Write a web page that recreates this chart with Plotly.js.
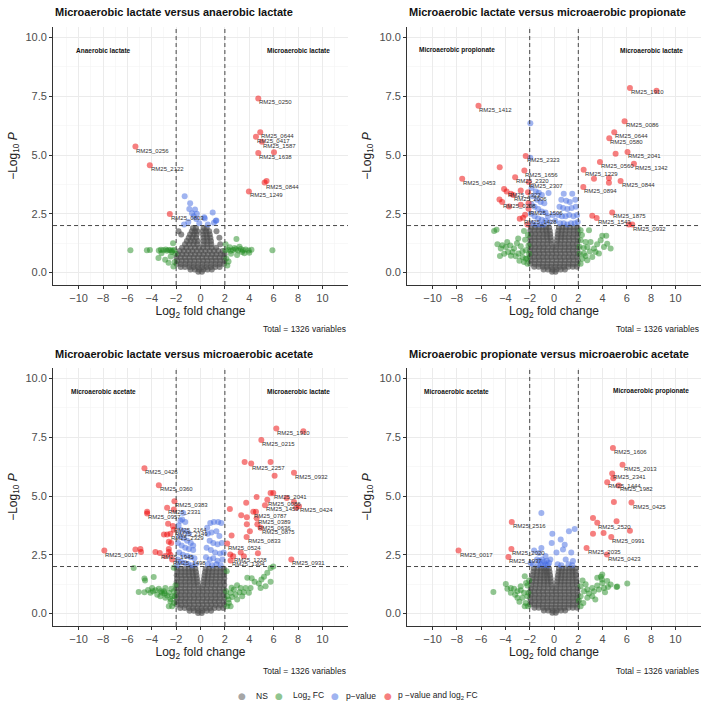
<!DOCTYPE html>
<html>
<head>
<meta charset="utf-8">
<script src="https://cdn.plot.ly/plotly-3.0.1.min.js"></script>
<style>
  html, body { margin: 0; padding: 0; background: #fff; }
  #chart { width: 709px; height: 709px; }
</style>
</head>
<body>
<div id="chart"></div>
<script>
// cut-offs used by the volcano plots
const FC_CUTOFF = 2;
const P_CUTOFF = 2; // -log10(0.01)

const xTickVals = [-10, -8, -6, -4, -2, 0, 2, 4, 6, 8, 10];
const xMinorVals = [-11, -9, -7, -5, -3, -1, 1, 3, 5, 7, 9, 11];
const yTickVals = [0, 2.5, 5, 7.5, 10];
const yTickText = ["0.0", "2.5", "5.0", "7.5", "10.0"];
const yMinorVals = [1.25, 3.75, 6.25, 8.75];

const panelTitles = [
  "Microaerobic lactate versus anaerobic lactate",
  "Microaerobic lactate versus microaerobic propionate",
  "Microaerobic lactate versus microaerobic acetate",
  "Microaerobic propionate versus microaerobic acetate",
];
const leftLabels = ["Anaerobic lactate", "Microaerobic propionate", "Microaerobic acetate", "Microaerobic acetate"];
const rightLabels = ["Microaerobic lactate", "Microaerobic lactate", "Microaerobic lactate", "Microaerobic propionate"];
const totalText = "Total = 1326 variables";
const legendNames = ["NS", "Log<sub>2</sub> FC", "p\u2212value", "p \u2212value and log<sub>2</sub> FC"];

// NS points, rows of [-log10 P, [log2 FC ...]]
const ns1 = [
  [0.03, [-0.18, 0.12]],
  [0.13, [-0.82, -0.47, -0.12, 0.24, 0.58, 0.93]],
  [0.24, [-1.62, -1.27, -0.91, -0.56, -0.21, 0.14, 0.49, 0.86, 1.21, 1.57]],
  [0.36, [-1.96, -1.61, -1.24, -0.89, -0.54, -0.19, 0.17, 0.52, 0.88, 1.23, 1.58, 1.93]],
  [0.5, [-1.92, -1.55, -1.2, -0.86, -0.51, -0.14, 0.21, 0.56, 0.91, 1.26, 1.61, 1.96]],
  [0.64, [-1.97, -1.62, -1.27, -0.9, -0.55, -0.2, 0.15, 0.5, 0.86, 1.21, 1.57, 1.92]],
  [0.78, [-1.86, -1.5, -1.15, -0.8, -0.45, -0.1, 0.25, 0.6, 0.95, 1.3, 1.66, 1.97]],
  [0.92, [-1.72, -1.36, -1.01, -0.66, -0.31, 0.05, 0.4, 0.76, 1.11, 1.46, 1.82]],
  [1.06, [-1.51, -1.16, -0.81, -0.46, -0.12, 0.21, 0.56, 0.91, 1.28]],
  [1.2, [-1.27, -0.92, -0.57, -0.26, 0.24, 0.55, 0.88, 1.62]],
  [1.34, [-1.12, -0.81, -0.51, -0.22, 0.26, 0.56, 0.86]],
  [1.48, [-0.97, -0.66, -0.36, 0.24, 0.54, 0.81, 1.55]],
  [1.62, [-1.58, -0.86, -0.56, -0.31, 0.21, 0.49, 0.76]],
  [1.76, [-1.8, -0.71, -0.46, -0.26, 0.19, 0.46, 0.71, 1.31]],
  [1.9, [-0.62, -0.37, 0.26, 0.51]],
];
const ns2 = [
  [0.03, [-0.16, 0.13]],
  [0.13, [-0.86, -0.5, -0.15, 0.2, 0.55, 0.9]],
  [0.25, [-1.63, -1.27, -0.92, -0.57, -0.22, 0.13, 0.48, 0.84, 1.19, 1.55, 1.88]],
  [0.38, [-1.95, -1.6, -1.25, -0.9, -0.55, -0.2, 0.16, 0.51, 0.86, 1.21, 1.56, 1.93]],
  [0.52, [-1.93, -1.57, -1.22, -0.87, -0.52, -0.17, 0.19, 0.54, 0.89, 1.24, 1.59, 1.95]],
  [0.66, [-1.96, -1.61, -1.26, -0.91, -0.56, -0.21, 0.14, 0.49, 0.84, 1.2, 1.55, 1.91]],
  [0.8, [-1.92, -1.56, -1.21, -0.86, -0.51, -0.16, 0.19, 0.54, 0.9, 1.25, 1.6, 1.95]],
  [0.94, [-1.95, -1.6, -1.25, -0.9, -0.55, -0.2, 0.15, 0.5, 0.86, 1.21, 1.56, 1.92]],
  [1.08, [-1.92, -1.57, -1.22, -0.87, -0.52, -0.14, 0.16, 0.53, 0.88, 1.23, 1.58, 1.94]],
  [1.22, [-1.96, -1.61, -1.26, -0.91, -0.56, -0.2, 0.21, 0.52, 0.86, 1.2, 1.55, 1.9]],
  [1.36, [-1.93, -1.58, -1.23, -0.88, -0.53, -0.24, 0.24, 0.55, 0.9, 1.25, 1.6, 1.95]],
  [1.5, [-1.95, -1.6, -1.25, -0.9, -0.57, -0.28, 0.28, 0.58, 0.88, 1.22, 1.57, 1.92]],
  [1.64, [-1.91, -1.56, -1.21, -0.87, -0.58, -0.31, 0.31, 0.6, 0.91, 1.26, 1.61, 1.95]],
  [1.78, [-1.95, -1.6, -1.26, -0.93, -0.63, -0.35, 0.35, 0.64, 0.95, 1.28, 1.62, 1.94]],
  [1.92, [-1.9, -1.57, -1.24, -0.92, -0.65, -0.4, 0.4, 0.68, 0.97, 1.3, 1.63, 1.93]],
];
const ns3 = [
  [0.02, [-0.2, 0.1]],
  [0.12, [-0.9, -0.55, -0.2, 0.16, 0.51, 0.87]],
  [0.24, [-1.66, -1.3, -0.95, -0.6, -0.25, 0.1, 0.45, 0.8, 1.15, 1.5, 1.86]],
  [0.37, [-1.94, -1.59, -1.24, -0.89, -0.54, -0.18, 0.17, 0.53, 0.88, 1.23, 1.58, 1.94]],
  [0.51, [-1.96, -1.62, -1.27, -0.92, -0.57, -0.22, 0.13, 0.48, 0.83, 1.18, 1.53, 1.9]],
  [0.65, [-1.93, -1.58, -1.23, -0.88, -0.53, -0.18, 0.18, 0.53, 0.88, 1.23, 1.58, 1.95]],
  [0.79, [-1.95, -1.61, -1.26, -0.91, -0.56, -0.21, 0.14, 0.49, 0.85, 1.2, 1.55, 1.9]],
  [0.93, [-1.92, -1.57, -1.22, -0.87, -0.52, -0.17, 0.18, 0.53, 0.89, 1.24, 1.59, 1.94]],
  [1.07, [-1.96, -1.6, -1.25, -0.9, -0.55, -0.16, 0.15, 0.5, 0.85, 1.2, 1.55, 1.91]],
  [1.21, [-1.93, -1.58, -1.23, -0.88, -0.53, -0.21, 0.22, 0.55, 0.9, 1.25, 1.6, 1.95]],
  [1.35, [-1.95, -1.6, -1.25, -0.9, -0.56, -0.25, 0.25, 0.56, 0.88, 1.22, 1.57, 1.92]],
  [1.49, [-1.92, -1.57, -1.22, -0.88, -0.58, -0.29, 0.29, 0.59, 0.91, 1.26, 1.61, 1.95]],
  [1.63, [-1.95, -1.6, -1.26, -0.93, -0.61, -0.33, 0.33, 0.62, 0.94, 1.27, 1.6, 1.93]],
  [1.77, [-1.91, -1.58, -1.25, -0.94, -0.65, -0.37, 0.37, 0.66, 0.96, 1.29, 1.62, 1.95]],
  [1.91, [-1.94, -1.6, -1.27, -0.96, -0.68, -0.42, 0.42, 0.7, 0.99, 1.31, 1.64, 1.92]],
];
const ns4 = [
  [0.03, [-0.14, 0.15]],
  [0.13, [-0.84, -0.49, -0.13, 0.22, 0.57, 0.92]],
  [0.25, [-1.61, -1.26, -0.91, -0.56, -0.21, 0.14, 0.5, 0.85, 1.2, 1.55, 1.9]],
  [0.38, [-1.96, -1.61, -1.26, -0.91, -0.55, -0.2, 0.15, 0.5, 0.86, 1.21, 1.56, 1.92]],
  [0.52, [-1.93, -1.58, -1.23, -0.88, -0.53, -0.18, 0.17, 0.52, 0.87, 1.22, 1.57, 1.95]],
  [0.66, [-1.95, -1.6, -1.25, -0.9, -0.55, -0.2, 0.16, 0.51, 0.86, 1.21, 1.56, 1.91]],
  [0.8, [-1.92, -1.57, -1.22, -0.87, -0.52, -0.17, 0.18, 0.53, 0.88, 1.23, 1.58, 1.94]],
  [0.94, [-1.95, -1.6, -1.25, -0.9, -0.55, -0.19, 0.16, 0.51, 0.86, 1.21, 1.56, 1.92]],
  [1.08, [-1.9, -1.55, -1.2, -0.86, -0.51, -0.15, 0.17, 0.52, 0.87, 1.22, 1.57, 1.93]],
  [1.22, [-1.86, -1.51, -1.17, -0.84, -0.52, -0.21, 0.21, 0.53, 0.86, 1.19, 1.53, 1.88]],
  [1.36, [-1.82, -1.48, -1.15, -0.83, -0.53, -0.25, 0.25, 0.55, 0.87, 1.2, 1.53, 1.85]],
  [1.5, [-1.78, -1.45, -1.13, -0.83, -0.55, -0.29, 0.29, 0.58, 0.89, 1.21, 1.53, 1.83]],
  [1.64, [-1.74, -1.42, -1.11, -0.82, -0.57, -0.33, 0.33, 0.6, 0.9, 1.22, 1.52, 1.8]],
  [1.78, [-1.7, -1.39, -1.09, -0.82, -0.6, -0.37, 0.37, 0.63, 0.92, 1.23, 1.52, 1.78]],
  [1.92, [-1.66, -1.36, -1.07, -0.82, -0.62, -0.41, 0.41, 0.66, 0.95, 1.25, 1.5, 1.75]],
];

// Log2 FC only, [log2 FC, -log10 P]
const fc1 = [
  [-5.75, 0.95], [-4.4, 0.95], [-4.15, 0.96], [-3.42, 0.94], [-3.25, 0.97], [-2.75, 0.93], [-2.6, 0.96],
  [-2.45, 0.95], [-2.3, 0.94], [-2.15, 0.96], [-2.9, 0.55], [-2.45, 0.68], [-2.25, 1.25], [-2.12, 0.45],
  [-2.62, 0.42], [-3.45, 0.62], [-3.2, 0.82], [-2.22, 0.26], [-2.05, 0.8], [-2.35, 0.88], [-3.05, 0.95],
  [-2.85, 0.98], [2.05, 0.95], [2.28, 0.97], [2.48, 0.93], [2.68, 0.96], [2.9, 0.99], [3.1, 0.94],
  [3.3, 1.0], [3.5, 0.95], [3.7, 0.98], [3.95, 0.94], [4.18, 0.97], [5.9, 0.95], [2.95, 1.43], [2.2, 0.3],
  [2.12, 0.6], [2.5, 0.8], [2.8, 1.05], [3.2, 1.1], [3.6, 0.82], [2.3, 0.47], [2.06, 1.2], [3.0, 0.75],
  [4.0, 0.84], [2.4, 1.08], [3.4, 0.88],
];
const fc2 = [
  [-4.93, 1.77], [-4.73, 1.82], [-2.47, 1.77], [-2.38, 1.4], [-4.66, 1.2], [-4.38, 1.02], [-4.25, 1.16],
  [-3.97, 1.09], [-3.78, 0.88], [-3.6, 1.15], [-3.42, 0.88], [-3.29, 1.02], [-3.15, 0.69], [-2.93, 0.81],
  [-2.74, 1.12], [-2.6, 0.66], [-2.47, 0.45], [-2.33, 0.95], [-2.33, 0.59], [-2.19, 0.38], [-2.05, 0.8],
  [-2.1, 1.15], [-3.05, 1.25], [-3.55, 0.72], [-4.1, 0.8], [-2.85, 0.5], [-2.2, 0.6], [-2.6, 0.9],
  [-4.45, 0.7], [-3.85, 1.3], [-2.15, 1.6], [-2.95, 1.45],
  [2.19, 1.8], [2.88, 1.8], [3.97, 1.57], [4.3, 1.57], [2.19, 1.37], [2.6, 1.3], [3.01, 1.3], [2.74, 1.09],
  [3.29, 1.02], [3.7, 0.81], [4.11, 1.09], [2.47, 0.81], [2.33, 0.59], [2.74, 0.52], [2.19, 0.38],
  [3.15, 0.66], [3.42, 0.88], [4.38, 1.23], [4.66, 1.02], [2.45, 1.05], [2.95, 0.9], [2.12, 0.8],
  [3.84, 1.37], [2.1, 1.1], [3.55, 1.2], [2.6, 0.7], [2.3, 1.6],
];
const fc3 = [
  [-5.48, 1.94], [-4.6, 1.49], [-4.55, 1.4], [-3.84, 1.55], [-5.07, 0.92], [-3.97, 1.09], [-3.7, 0.99],
  [-3.42, 1.05], [-3.15, 0.88], [-2.88, 1.09], [-2.6, 0.88], [-2.33, 0.74], [-2.19, 0.45], [-2.47, 0.52],
  [-2.88, 0.67], [-3.29, 0.74], [-2.19, 0.95], [-4.11, 0.88], [-2.6, 0.31], [-2.33, 0.31], [-3.55, 0.8],
  [-3.0, 0.95], [-2.11, 0.74], [-2.74, 0.77], [-4.3, 1.0], [-4.6, 0.9], [-2.4, 1.05], [-2.05, 1.2],
  [-3.25, 0.95], [-2.95, 0.85], [-2.2, 1.95], [-2.45, 0.62], [-3.9, 0.95],
  [5.75, 1.94], [5.97, 2.0], [3.84, 1.52], [4.44, 1.35], [5.48, 1.73], [5.21, 1.56], [5.34, 1.16],
  [4.93, 1.09], [4.79, 1.28], [2.74, 1.02], [3.29, 1.09], [3.7, 1.09], [2.47, 0.88], [2.88, 0.81],
  [3.2, 0.9], [2.19, 0.74], [2.33, 0.45], [2.47, 0.31], [2.1, 0.95], [3.97, 0.88], [4.11, 1.09],
  [3.01, 0.6], [2.6, 0.7], [3.42, 0.74], [2.19, 0.31], [2.55, 1.1], [3.0, 1.2], [3.55, 0.9], [4.2, 1.5],
  [2.3, 0.6], [5.75, 1.35], [5.0, 1.45], [2.15, 1.8],
];
const fc4 = [
  [-4.99, 0.92], [-3.97, 1.26], [-3.56, 1.09], [-2.41, 1.59], [-2.19, 1.19], [-3.29, 1.05], [-3.01, 0.95],
  [-2.74, 0.99], [-2.47, 0.88], [-2.19, 0.74], [-2.6, 0.67], [-3.01, 0.67], [-2.33, 0.45], [-2.41, 0.31],
  [-2.14, 0.31], [-3.56, 0.88], [-2.74, 1.16], [-2.11, 0.88], [-3.84, 1.05], [-2.3, 1.3], [-3.2, 0.8],
  [-2.05, 1.4], [-2.85, 0.5],
  [3.86, 1.56], [3.95, 1.45], [6.03, 1.28], [5.15, 1.13], [4.44, 1.13], [2.74, 1.02], [3.15, 1.09],
  [3.56, 1.19], [3.97, 1.3], [2.19, 1.16], [2.47, 0.95], [2.88, 0.85], [3.29, 0.95], [3.7, 1.02],
  [2.19, 0.74], [2.41, 0.45], [2.19, 0.31], [2.74, 0.67], [3.15, 0.74], [4.11, 1.09], [4.38, 1.38],
  [4.66, 1.23], [3.56, 1.52], [3.97, 1.66], [2.35, 1.4], [2.6, 1.25], [3.4, 0.6], [2.05, 0.55],
  [5.2, 1.15], [4.2, 0.9],
];

// p-value only
const pv1 = [
  [-1.3, 3.25], [-0.85, 2.95], [-0.92, 2.7], [-0.45, 2.68], [-0.7, 2.52], [-0.3, 2.5], [-0.55, 2.4],
  [0.3, 2.35], [0.35, 2.3], [1.0, 2.55], [1.25, 2.2], [1.1, 2.12], [1.3, 2.22], [-1.35, 2.05],
  [-0.35, 2.28], [-0.1, 2.1], [0.6, 2.05], [-1.0, 2.15],
];
const pv2 = [
  [-1.95, 6.35], [-1.95, 4.88], [-1.85, 3.6], [-1.5, 3.45], [-1.25, 3.4], [-1.0, 3.3], [-1.75, 3.25],
  [-1.4, 3.1], [-1.1, 3.0], [-0.8, 2.95], [-1.85, 2.9], [-1.6, 2.8], [-1.3, 2.7], [-1.0, 2.6],
  [-0.7, 2.55], [-1.9, 2.5], [-1.6, 2.4], [-1.3, 2.3], [-1.0, 2.25], [-0.7, 2.2], [-0.4, 2.15],
  [-1.8, 2.1], [-1.5, 2.05], [-1.15, 2.05], [-0.85, 2.05], [-0.5, 2.4], [-0.45, 3.39],
  [0.8, 3.35], [1.5, 3.35], [0.6, 3.1], [1.0, 3.05], [1.3, 3.0], [1.75, 3.1], [0.45, 2.8], [0.75, 2.75],
  [1.1, 2.7], [1.45, 2.75], [1.8, 2.8], [0.35, 2.45], [0.65, 2.4], [0.95, 2.4], [1.25, 2.45], [1.6, 2.4],
  [1.9, 2.45], [0.5, 2.1], [0.8, 2.1], [1.1, 2.05], [1.4, 2.1], [1.7, 2.1], [1.95, 2.15], [0.1, 2.2],
  [-0.1, 2.45],
];
const pv3 = [
  [-1.42, 4.28], [-1.5, 4.0], [-1.25, 3.9], [-1.8, 3.75], [-1.6, 3.55], [-1.2, 3.5], [-0.95, 3.4],
  [-1.7, 3.3], [-1.4, 3.2], [-1.1, 3.1], [-0.8, 3.0], [-1.85, 3.0], [-1.55, 2.9], [-1.25, 2.8],
  [-0.95, 2.75], [-0.6, 2.7], [-1.75, 2.6], [-1.45, 2.5], [-1.1, 2.45], [-0.8, 2.4], [-0.5, 2.35],
  [-1.85, 2.3], [-1.6, 2.2], [-1.3, 2.15], [-1.0, 2.1], [-0.7, 2.05], [-0.4, 2.1], [-1.9, 2.05],
  [-1.65, 3.95], [-0.6, 2.9],
  [0.55, 3.65], [0.8, 3.85], [1.1, 3.9], [1.45, 3.9], [1.7, 3.85], [0.6, 3.4], [0.9, 3.45], [1.3, 3.5],
  [1.55, 3.3], [0.75, 3.1], [1.05, 3.0], [1.4, 2.95], [1.75, 3.0], [0.5, 2.8], [0.85, 2.7], [1.2, 2.6],
  [1.6, 2.55], [0.45, 2.4], [0.75, 2.3], [1.05, 2.35], [1.4, 2.25], [1.8, 2.3], [0.6, 2.1], [0.95, 2.05],
  [1.3, 2.1], [1.65, 2.05], [1.9, 2.6],
];
const pv4 = [
  [-1.04, 4.28], [-0.14, 3.39], [1.23, 3.5], [1.7, 3.6], [0.55, 3.15], [0.88, 2.93], [0.74, 2.72],
  [-0.19, 3.0], [-1.04, 2.79], [-1.23, 2.58], [-1.64, 2.68], [1.42, 2.6], [1.56, 2.24], [0.96, 2.3],
  [-1.92, 2.15], [-1.75, 2.1], [-1.4, 2.3], [-1.2, 2.25], [-1.0, 2.3], [-0.8, 2.2], [-0.6, 2.25],
  [-0.4, 2.15], [-1.3, 2.05], [-1.1, 2.1], [-0.9, 2.05], [-0.7, 2.1], [-0.5, 2.05], [-0.3, 2.3],
  [0.3, 2.1], [0.6, 2.05], [1.2, 2.1], [1.5, 2.05], [-0.7, 2.45], [0.2, 2.6],
];

// p-value and log2 FC, [log2 FC, -log10 P, label]
const hit1 = [
  [4.74, 7.41, "RM25_0250"], [4.9, 5.97, "RM25_0644"], [4.55, 5.78, "RM25_0417"], [5.04, 5.57, "RM25_1587"],
  [4.74, 5.09, "RM25_1638"], [6.03, 5.12, ""], [5.42, 3.9, ""], [5.26, 3.83, "RM25_0844"],
  [3.97, 3.45, "RM25_1249"], [-5.34, 5.36, "RM25_0256"], [-4.16, 4.57, "RM25_2122"], [-2.52, 2.49, "RM25_0803"],
];
const hit2 = [
  [6.25, 7.85, "RM25_1910"], [8.44, 7.74, ""], [-6.22, 7.1, "RM25_1412"], [5.81, 6.44, "RM25_0086"],
  [4.96, 5.97, "RM25_0644"], [4.55, 5.71, "RM25_0580"], [5.07, 5.05, ""], [6.05, 5.13, "RM25_2041"],
  [3.78, 4.7, "RM25_0560"], [6.58, 4.63, "RM25_1342"], [2.44, 4.37, "RM25_1229"], [3.29, 3.99, ""],
  [4.52, 4.02, ""], [4.52, 3.82, ""], [5.48, 3.9, "RM25_0844"], [2.41, 3.64, "RM25_0894"],
  [4.79, 2.56, "RM25_1875"], [3.15, 2.42, ""], [3.51, 2.32, "RM25_1543"], [6.16, 2.04, ""],
  [6.44, 2.04, "RM25_0932"],
  [-2.33, 4.96, "RM25_2323"], [-4.47, 4.48, ""], [-2.44, 4.34, "RM25_1656"], [-3.2, 4.06, "RM25_2320"],
  [-2.08, 3.85, "RM25_2307"], [-7.56, 3.99, "RM25_0453"], [-4.11, 3.56, ""], [-3.9, 3.45, "RM25_1322"],
  [-3.55, 3.35, ""], [-2.74, 3.49, ""], [-2.14, 3.42, ""], [-4.49, 3.11, ""], [-4.27, 3.0, "RM25_0208"],
  [-3.7, 2.81, ""], [-3.35, 3.3, "RM25_2006"], [-2.74, 2.89, ""], [-2.1, 2.95, ""], [-2.1, 2.72, "RM25_1506"],
  [-2.38, 2.46, ""], [-2.82, 2.29, ""], [-2.55, 2.33, "RM25_1428"], [-2.19, 2.05, ""],
];
const hit3 = [
  [6.22, 7.87, "RM25_1910"], [8.44, 7.76, ""], [4.99, 7.38, "RM25_0215"], [3.62, 6.45, ""],
  [4.16, 6.38, "RM25_2257"], [5.75, 6.45, ""], [7.67, 5.99, "RM25_0932"], [6.08, 5.86, ""],
  [5.75, 5.13, ""], [5.97, 5.13, "RM25_2041"], [7.07, 4.92, ""], [4.6, 4.96, ""], [7.67, 4.75, ""],
  [8.08, 4.57, "RM25_0424"], [7.85, 4.5, ""], [5.48, 4.84, "RM25_0086"], [5.29, 4.61, "RM25_1459"],
  [3.75, 4.71, ""], [2.41, 4.45, ""], [4.33, 4.33, "RM25_0787"], [4.55, 4.33, ""], [3.34, 4.18, ""],
  [3.8, 4.1, ""], [4.6, 4.05, "RM25_0389"], [4.66, 3.8, "RM25_0636"], [4.93, 3.65, "RM25_0875"],
  [3.8, 3.8, ""], [4.05, 3.5, ""], [3.78, 3.26, "RM25_0833"], [2.55, 3.32, ""], [2.19, 2.98, "RM25_0524"],
  [2.44, 2.51, ""], [4.71, 2.57, ""], [3.56, 2.44, ""], [2.68, 2.44, "RM25_1228"], [2.47, 2.26, "RM25_1304"],
  [7.45, 2.3, "RM25_0931"], [3.3, 2.6, ""],
  [-4.6, 6.18, "RM25_0426"], [-3.42, 5.46, "RM25_0360"], [-2.14, 4.78, "RM25_0383"], [-2.74, 4.5, "RM25_2331"],
  [-4.38, 4.33, ""], [-4.38, 4.26, "RM25_0957"], [-2.19, 4.43, ""], [-2.66, 3.82, ""],
  [-2.27, 3.72, "RM25_2164"], [-2.19, 3.57, "RM25_2149"], [-3.0, 3.36, ""], [-2.74, 3.36, ""],
  [-2.47, 3.39, "RM25_2329"], [-2.41, 3.0, ""], [-2.6, 3.05, ""], [-7.89, 2.68, "RM25_0017"],
  [-5.34, 2.72, ""], [-4.93, 2.75, ""], [-4.88, 2.62, ""], [-3.7, 2.62, ""], [-2.6, 2.75, ""],
  [-2.6, 2.62, ""], [-2.47, 2.5, ""], [-3.34, 2.58, "RM25_1945"], [-2.33, 2.3, "RM25_1498"], [-2.9, 2.45, ""],
];
const hit4 = [
  [4.85, 7.04, "RM25_1606"], [5.64, 6.33, "RM25_2013"], [4.79, 5.96, "RM25_2341"], [4.88, 5.76, ""],
  [4.38, 5.59, "RM25_1444"], [5.32, 5.45, "RM25_1982"], [4.93, 4.75, ""], [6.38, 4.72, "RM25_0425"],
  [3.21, 4.07, ""], [3.56, 3.86, "RM25_2520"], [5.15, 3.93, ""], [3.21, 3.39, ""], [4.08, 3.43, ""],
  [6.25, 3.52, ""], [4.71, 3.26, "RM25_0991"], [2.68, 2.79, "RM25_2035"], [4.36, 2.51, "RM25_0423"],
  [-3.48, 3.9, "RM25_2516"], [-7.86, 2.68, "RM25_0017"], [-3.51, 2.75, "RM25_2020"], [-3.75, 2.41, "RM25_1937"],
];

const nsRows = [ns1, ns2, ns3, ns4];
const fcPoints = [fc1, fc2, fc3, fc4];
const pvPoints = [pv1, pv2, pv3, pv4];
const hitPoints = [hit1, hit2, hit3, hit4];

const COLORS = { ns: "#4D4D4D", fc: "#228B22", pv: "#4169E1", both: "#EE0000" };
const LEGEND_COLORS = ["rgba(77,77,77,0.5)", "rgba(34,139,34,0.5)", "rgba(65,105,225,0.5)", "rgba(238,0,0,0.5)"];
const FONT = "Liberation Sans, Arial, Helvetica, sans-serif";

// panel placement (paper fractions)
const xDomains = [[0.0748, 0.4908], [0.5741, 0.9887], [0.0748, 0.4908], [0.5741, 0.9887]];
const yDomains = [[0.598, 0.962], [0.598, 0.962], [0.1171, 0.481], [0.1171, 0.481]];
const titleY = [0.9827, 0.9827, 0.5007, 0.5007];
const totalY = [0.536, 0.536, 0.0536, 0.0536];
// legend key placement (px from left), key dot and text start
const legendDotX = [242, 279, 335, 388];
const legendTextX = [254, 291, 344, 396];
const legendY = 1 - 695.5 / 709;

function flattenRows(rows) {
  const pts = [];
  rows.forEach(([py, xs]) => xs.forEach((px) => pts.push([px, py])));
  return pts;
}

function pointTrace(points, name, color, opacity, i) {
  return {
    type: "scatter",
    mode: "markers",
    x: points.map((p) => p[0]),
    y: points.map((p) => p[1]),
    xaxis: i === 0 ? "x" : `x${i + 1}`,
    yaxis: i === 0 ? "y" : `y${i + 1}`,
    name,
    showlegend: false,
    hoverinfo: "skip",
    cliponaxis: false,
    marker: { color, opacity, size: 6, line: { width: 0 } },
  };
}

const traces = [];
const annotations = [];
const shapes = [];
const layout = {
  width: 709,
  height: 709,
  margin: { l: 0, r: 0, t: 0, b: 0 },
  paper_bgcolor: "#ffffff",
  plot_bgcolor: "#ffffff",
  font: { family: FONT, color: "#222222" },
  showlegend: false,
};

for (let i = 0; i < 4; i++) {
  const xa = i === 0 ? "x" : `x${i + 1}`;
  const ya = i === 0 ? "y" : `y${i + 1}`;
  const xKey = i === 0 ? "xaxis" : `xaxis${i + 1}`;
  const yKey = i === 0 ? "yaxis" : `yaxis${i + 1}`;

  traces.push(pointTrace(flattenRows(nsRows[i]), "NS", COLORS.ns, 0.65, i));
  traces.push(pointTrace(fcPoints[i], "Log2 FC", COLORS.fc, 0.5, i));
  traces.push(pointTrace(pvPoints[i], "p-value", COLORS.pv, 0.5, i));
  traces.push(pointTrace(hitPoints[i], "p-value and log2 FC", COLORS.both, 0.5, i));

  // gene labels hang just below and to the right of their point
  hitPoints[i].filter((p) => p[2]).forEach((p) => {
    annotations.push({
      text: p[2], xref: xa, yref: ya, x: p[0], y: p[1],
      xanchor: "left", yanchor: "top", showarrow: false, borderpad: 0,
      font: { size: 6, color: "#333333", family: FONT },
    });
  });

  layout[xKey] = {
    domain: xDomains[i],
    anchor: ya,
    range: [-12.1, 12.1],
    tickmode: "array",
    tickvals: xTickVals,
    ticks: "outside",
    ticklen: 3,
    tickcolor: "#333333",
    tickfont: { size: 11, color: "#4D4D4D", family: FONT },
    showline: true,
    linecolor: "#333333",
    linewidth: 1,
    showgrid: true,
    gridcolor: "#EBEBEB",
    gridwidth: 1,
    zeroline: false,
    minor: { tickmode: "array", tickvals: xMinorVals, showgrid: true, gridcolor: "#F4F4F4", gridwidth: 0.6, ticks: "" },
    title: { text: "Log<sub>2</sub> fold change", font: { size: 12, color: "#222222", family: FONT }, standoff: 1 },
    fixedrange: true,
  };
  layout[yKey] = {
    domain: yDomains[i],
    anchor: xa,
    range: [-0.53, 10.45],
    tickmode: "array",
    tickvals: yTickVals,
    ticktext: yTickText,
    ticks: "outside",
    ticklen: 3,
    tickcolor: "#333333",
    tickfont: { size: 11, color: "#4D4D4D", family: FONT },
    showline: true,
    linecolor: "#333333",
    linewidth: 1,
    showgrid: true,
    gridcolor: "#EBEBEB",
    gridwidth: 1,
    zeroline: false,
    minor: { tickmode: "array", tickvals: yMinorVals, showgrid: true, gridcolor: "#F4F4F4", gridwidth: 0.6, ticks: "" },
    title: { text: "\u2212Log<sub>10</sub> <i>P</i>", font: { size: 12, color: "#222222", family: FONT }, standoff: 5 },
    fixedrange: true,
  };

  // threshold lines
  [-FC_CUTOFF, FC_CUTOFF].forEach((v) => {
    shapes.push({
      type: "line", xref: xa, yref: `${ya} domain`, x0: v, x1: v, y0: 0, y1: 1,
      line: { color: "#333333", width: 0.9, dash: "4px,3px" },
    });
  });
  shapes.push({
    type: "line", xref: `${xa} domain`, yref: ya, x0: 0, x1: 1, y0: P_CUTOFF, y1: P_CUTOFF,
    line: { color: "#333333", width: 0.9, dash: "4px,3px" },
  });

  annotations.push({
    text: `<b>${panelTitles[i]}</b>`, xref: "paper", yref: "paper",
    x: xDomains[i][0], y: titleY[i], xanchor: "left", yanchor: "middle",
    showarrow: false, font: { size: 11, color: "#111111", family: FONT },
  });
  annotations.push({
    text: `<b>${leftLabels[i]}</b>`, xref: xa, yref: ya, x: -8, y: 9.46,
    xanchor: "center", yanchor: "middle", showarrow: false,
    font: { size: 6.5, color: "#111111", family: FONT },
  });
  annotations.push({
    text: `<b>${rightLabels[i]}</b>`, xref: xa, yref: ya, x: 8, y: 9.46,
    xanchor: "center", yanchor: "middle", showarrow: false,
    font: { size: 6.5, color: "#111111", family: FONT },
  });
  annotations.push({
    text: totalText, xref: "paper", yref: "paper", x: xDomains[i][1], y: totalY[i],
    xanchor: "right", yanchor: "middle", showarrow: false,
    font: { size: 8.5, color: "#222222", family: FONT },
  });
}

// shared legend along the bottom
legendNames.forEach((name, k) => {
  annotations.push({
    text: "\u25CF", xref: "paper", yref: "paper", x: legendDotX[k] / 709, y: legendY,
    xanchor: "center", yanchor: "middle", showarrow: false,
    font: { size: 9, color: LEGEND_COLORS[k], family: "DejaVu Sans, sans-serif" },
  });
  annotations.push({
    text: name, xref: "paper", yref: "paper", x: legendTextX[k] / 709, y: legendY,
    xanchor: "left", yanchor: "middle", showarrow: false,
    font: { size: 8.5, color: "#222222", family: FONT },
  });
});

layout.shapes = shapes;
layout.annotations = annotations;

Plotly.newPlot("chart", traces, layout, { displayModeBar: false, staticPlot: true });
</script>
</body>
</html>
